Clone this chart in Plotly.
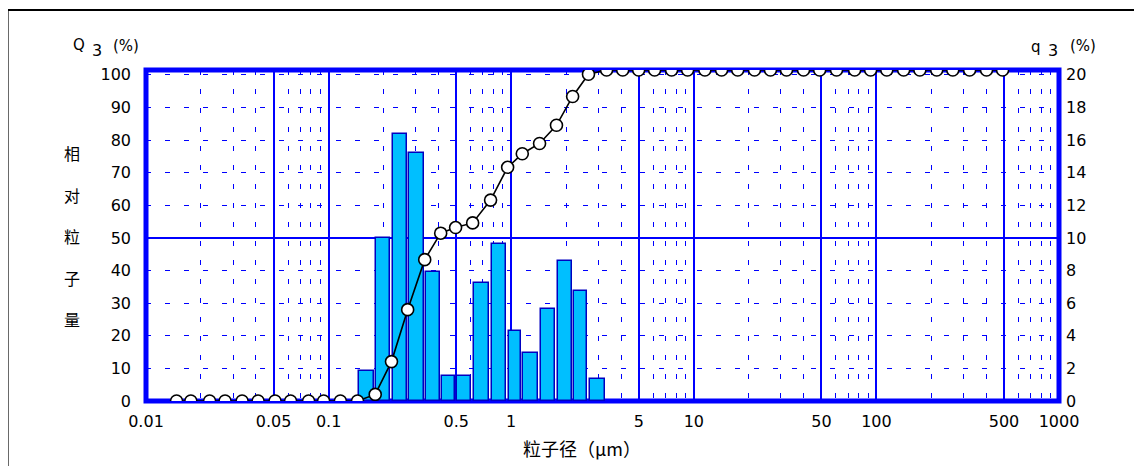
import math
import plotly.graph_objects as go

# ---------------- data ----------------
# particle sizes (µm) at which the cumulative distribution Q3 is sampled
sizes = [0.0147, 0.0176, 0.0223, 0.0271, 0.0336, 0.0411, 0.0509, 0.0619, 0.0777, 0.0939,
         0.116, 0.144, 0.180, 0.221, 0.271, 0.336, 0.411, 0.496, 0.615, 0.771,
         0.956, 1.15, 1.43, 1.77, 2.17, 2.65, 3.33, 4.08, 4.99, 6.10,
         7.56, 9.25, 11.5, 14.2, 17.4, 21.5, 26.3, 32.2, 39.9, 48.9,
         60.5, 76.0, 93.0, 114, 141, 173, 214, 262, 324, 401, 491]
# cumulative undersize Q3 (%)
q3_cum = [0, 0, 0, 0, 0, 0, 0, 0, 0, 0,
          0, 0, 2.0, 11.9, 27.6, 42.7, 50.7, 52.4, 53.8, 60.7,
          70.6, 74.7, 77.8, 83.3, 92.0, 98.7, 100, 100, 100, 100,
          100, 100, 100, 100, 100, 100, 100, 100, 100, 100,
          100, 100, 100, 100, 100, 100, 100, 100, 100, 100, 100]

# frequency q3 (%) per size class; class bounds in µm
bin_lo = [0.144, 0.180, 0.221, 0.271, 0.336, 0.411, 0.496, 0.615,
          0.771, 0.956, 1.15, 1.43, 1.77, 2.17, 2.65]
bin_hi = [0.180, 0.221, 0.271, 0.336, 0.411, 0.496, 0.615, 0.771,
          0.956, 1.15, 1.43, 1.77, 2.17, 2.65, 3.33]
q3_freq = [1.86, 10.0, 16.4, 15.2, 7.9, 1.55, 1.55, 7.24,
           9.63, 4.29, 2.93, 5.66, 8.61, 6.73, 1.37]

x_major_vals = [0.01, 0.05, 0.1, 0.5, 1, 5, 10, 50, 100, 500, 1000]
x_major_text = ["0.01", "0.05", "0.1", "0.5", "1", "5", "10", "50", "100", "500", "1000"]
x_decades = [0.01, 0.1, 1, 10, 100]
x_minor_mult = [2, 3, 4, 6, 7, 8, 9]
y_left_ticks = [0, 10, 20, 30, 40, 50, 60, 70, 80, 90, 100]
y_right_ticks = [0, 2, 4, 6, 8, 10, 12, 14, 16, 18, 20]

# ---------------- styling ----------------
BLUE = "#0000FF"
BAR_FILL = "#00BFFF"
BAR_LINE = "#0000C0"
FONT = "DejaVu Sans, Arial, sans-serif"
CJK = "Noto Sans CJK SC"

x_minor_vals = [d * m for d in x_decades for m in x_minor_mult]

bar_x = [(math.log10(a) + math.log10(b)) / 2 for a, b in zip(bin_lo, bin_hi)]
bar_w = [0.86 * (math.log10(b) - math.log10(a)) for a, b in zip(bin_lo, bin_hi)]

fig = go.Figure()

# frequency bars (x2: linear axis in log10 units, y2: right q3 axis)
fig.add_trace(go.Bar(
    x=bar_x, y=q3_freq, width=bar_w,
    xaxis="x2", yaxis="y2",
    marker=dict(color=BAR_FILL, line=dict(color=BAR_LINE, width=1.5)),
    showlegend=False, hoverinfo="skip",
))

# cumulative curve (x3: log overlay, y3: 0-100 over full plot height)
fig.add_trace(go.Scatter(
    x=sizes, y=q3_cum, xaxis="x3", yaxis="y3",
    mode="lines+markers",
    line=dict(color="black", width=1.6),
    marker=dict(symbol="circle", size=12, color="white",
                line=dict(color="black", width=1.6)),
    showlegend=False, hoverinfo="skip",
))

fig.update_layout(
    width=1134, height=458,
    margin=dict(l=138, r=83, t=62, b=65),
    paper_bgcolor="white", plot_bgcolor="white",
    bargap=0,
    xaxis=dict(
        type="log", range=[-2, 3], domain=[0, 1], automargin=False,
        tickmode="array", tickvals=x_major_vals, ticktext=x_major_text,
        showgrid=True, gridcolor=BLUE, gridwidth=2,
        minor=dict(tickmode="array", tickvals=x_minor_vals, showgrid=True,
                   gridcolor=BLUE, gridwidth=1, griddash="5px,14px", ticks=""),
        ticks="", showline=False, zeroline=False,
        tickfont=dict(family=FONT, size=16, color="black"),
        ticklabelstandoff=9,
    ),
    xaxis2=dict(type="linear", range=[-2, 3], overlaying="x", visible=False),
    xaxis3=dict(type="log", range=[-2, 3], overlaying="x", visible=False),
    yaxis=dict(
        range=[0, 101.5], tickmode="array", tickvals=y_left_ticks, automargin=False,
        showgrid=True, gridcolor=BLUE, gridwidth=1, griddash="5px,14px",
        ticks="", showline=False, zeroline=False,
        tickfont=dict(family=FONT, size=16, color="black"),
        ticklabelstandoff=14,
    ),
    yaxis2=dict(
        range=[0, 20.3], overlaying="y", side="right", anchor="x2", automargin=False,
        tickmode="array", tickvals=y_right_ticks,
        showgrid=False, ticks="", showline=False, zeroline=False,
        tickfont=dict(family=FONT, size=16, color="black"),
        ticklabelstandoff=6,
    ),
    yaxis3=dict(range=[0, 100], overlaying="y", anchor="x3", visible=False),
)

# solid 50 % line and the thick plot frame
fig.add_shape(type="line", xref="paper", x0=0, x1=1, yref="y", y0=50, y1=50,
              line=dict(color=BLUE, width=2), layer="between")
fig.add_shape(type="rect", xref="paper", yref="paper", x0=0, x1=1, y0=0, y1=1,
              line=dict(color=BLUE, width=5), fillcolor="rgba(0,0,0,0)", layer="between")
# outer black frame of the report panel
fig.add_shape(type="rect", xref="paper", yref="paper",
              x0=-0.1516, x1=1.10, y0=-0.25, y1=1.181,
              line=dict(color="black", width=2), fillcolor="rgba(0,0,0,0)", layer="below")

def note(text, x, y, size=15, family=FONT, xanchor="center"):
    fig.add_annotation(text=text, x=x, y=y, xref="paper", yref="paper",
                       showarrow=False, xanchor=xanchor, yanchor="middle",
                       font=dict(family=family, size=size, color="black"))

note("Q", -0.0738, 1.0755)
note("3", -0.0541, 1.0604, size=16)
note("(%)", -0.0218, 1.074)
note("q", 0.9744, 1.070)
note("3", 0.9931, 1.0604, size=16)
note("(%)", 1.0265, 1.074)

note("相<br><br>对<br><br>粒<br><br>子<br><br>量", -0.0807, 0.4985, size=16, family=CJK)
note("粒子径（μm）", 0.478, -0.142, size=18, family=CJK)

fig.write_html("out.html")
